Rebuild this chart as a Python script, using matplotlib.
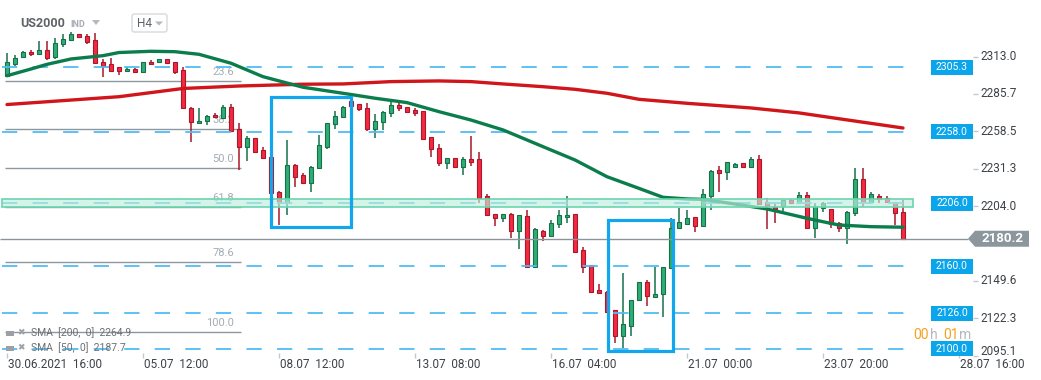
import numpy as np
import matplotlib.pyplot as plt
from matplotlib.patches import Rectangle, Polygon, FancyBboxPatch

plt.rcParams['font.family'] = ['Roboto', 'DejaVu Sans']
plt.rcParams['lines.scale_dashes'] = False

# US2000, H4 candles
opens = [2299.0, 2307.8, 2312.9, 2316.1, 2314.6, 2317.8, 2312.4, 2321.9, 2324.8, 2329.2,
         2327.7, 2325.1, 2308.8, 2307.6, 2305.2, 2302.2, 2304.1, 2301.9, 2308.8, 2308.8,
         2311.0, 2308.8, 2303.0, 2275.7, 2264.3, 2266.3, 2270.4, 2268.0, 2276.0, 2260.0,
         2247.3, 2253.4, 2244.9, 2240.0, 2214.5, 2206.5, 2234.2, 2226.4, 2220.6, 2231.6,
         2247.3, 2263.6, 2269.2, 2280.4, 2278.2, 2275.3, 2260.2, 2265.1, 2271.6, 2277.7,
         2276.0, 2274.0, 2273.3, 2254.1, 2246.1, 2235.2, 2238.8, 2232.3, 2238.1, 2238.1,
         2211.4, 2198.3, 2195.6, 2198.3, 2186.1, 2196.8, 2159.9, 2185.9, 2182.4, 2190.8,
         2195.9, 2198.3, 2172.0, 2161.1, 2142.9, 2141.6, 2128.3, 2109.6, 2116.9, 2135.6,
         2148.5, 2138.0, 2139.7, 2158.7, 2187.8, 2190.8, 2195.9, 2189.7, 2211.6, 2230.3,
         2229.1, 2232.7, 2235.2, 2232.7, 2238.3, 2206.8, 2203.6, 2204.3, 2208.5, 2206.5,
         2212.1, 2188.3, 2202.9, 2201.9, 2191.5, 2187.8, 2198.8, 2223.5, 2207.2, 2211.6,
         2209.7, 2206.8, 2199.5]
highs = [2315.4, 2314.1, 2317.0, 2317.4, 2324.3, 2324.3, 2326.3, 2329.2, 2330.7, 2329.6,
         2329.2, 2330.2, 2311.2, 2311.7, 2305.6, 2305.4, 2304.6, 2309.0, 2310.3, 2311.2,
         2311.4, 2309.0, 2305.6, 2276.0, 2275.7, 2270.2, 2271.6, 2277.7, 2278.4, 2264.8,
         2255.1, 2253.6, 2246.9, 2240.5, 2215.0, 2252.2, 2234.5, 2228.1, 2233.0, 2255.8,
         2264.5, 2273.5, 2276.9, 2282.1, 2278.6, 2278.9, 2271.1, 2273.5, 2280.8, 2278.9,
         2276.3, 2275.3, 2273.6, 2254.3, 2249.3, 2239.3, 2239.0, 2240.0, 2255.1, 2243.7,
         2212.8, 2198.5, 2198.5, 2198.8, 2197.7, 2201.2, 2187.8, 2186.3, 2193.9, 2201.2,
         2211.4, 2198.5, 2174.0, 2161.3, 2147.2, 2142.0, 2128.5, 2155.5, 2135.8, 2148.7,
         2150.2, 2159.9, 2159.6, 2195.1, 2202.4, 2201.2, 2196.1, 2216.5, 2230.0, 2233.2,
         2236.1, 2235.4, 2235.4, 2239.6, 2241.3, 2209.7, 2207.2, 2208.7, 2209.0, 2214.5,
         2214.5, 2206.0, 2206.7, 2202.1, 2192.6, 2200.7, 2231.6, 2231.6, 2214.5, 2212.8,
         2211.4, 2207.0, 2208.5]
lows = [2298.8, 2306.3, 2312.7, 2313.4, 2314.4, 2310.3, 2311.2, 2319.7, 2324.6, 2326.8,
        2322.4, 2307.9, 2298.3, 2301.9, 2299.5, 2301.7, 2301.4, 2301.7, 2307.1, 2308.6,
        2307.8, 2300.3, 2275.0, 2250.9, 2264.0, 2263.1, 2268.5, 2267.8, 2258.8, 2230.3,
        2237.1, 2243.5, 2239.1, 2213.0, 2190.2, 2197.5, 2217.7, 2220.0, 2214.5, 2231.4,
        2245.4, 2260.0, 2269.0, 2276.8, 2273.5, 2259.0, 2253.9, 2259.5, 2269.2, 2273.5,
        2272.6, 2269.9, 2252.5, 2240.0, 2233.5, 2231.0, 2232.1, 2226.7, 2233.2, 2206.0,
        2196.8, 2189.7, 2192.2, 2180.5, 2172.8, 2159.7, 2159.7, 2178.6, 2182.2, 2188.3,
        2192.0, 2170.1, 2155.5, 2140.5, 2140.7, 2126.8, 2104.5, 2100.4, 2109.6, 2135.4,
        2131.2, 2137.8, 2123.0, 2158.5, 2187.6, 2190.6, 2185.4, 2189.5, 2201.2, 2214.5,
        2223.0, 2231.8, 2232.5, 2232.5, 2205.3, 2187.1, 2191.9, 2200.4, 2206.1, 2206.3,
        2187.3, 2180.5, 2199.9, 2187.8, 2185.4, 2176.4, 2197.0, 2203.6, 2207.0, 2206.1,
        2206.1, 2190.2, 2180.2]
closes = [2308.8, 2311.7, 2316.1, 2314.6, 2317.8, 2312.1, 2322.6, 2325.8, 2329.2, 2327.2,
          2323.8, 2308.1, 2306.3, 2302.7, 2302.7, 2304.1, 2301.9, 2308.8, 2307.3, 2311.0,
          2308.1, 2301.9, 2275.3, 2265.1, 2266.0, 2269.9, 2268.7, 2276.0, 2259.0, 2247.3,
          2253.4, 2243.7, 2239.3, 2213.8, 2206.5, 2233.7, 2225.0, 2220.6, 2232.3, 2248.5,
          2264.3, 2269.9, 2276.0, 2277.0, 2274.5, 2260.2, 2266.0, 2272.4, 2277.7, 2275.3,
          2272.8, 2272.1, 2252.7, 2245.8, 2235.2, 2238.8, 2232.3, 2238.1, 2236.4, 2210.1,
          2197.5, 2195.6, 2198.3, 2186.1, 2197.5, 2159.9, 2187.3, 2182.4, 2191.5, 2197.5,
          2197.5, 2170.8, 2159.4, 2141.6, 2140.9, 2127.1, 2109.6, 2118.1, 2135.6, 2148.5,
          2138.7, 2139.7, 2159.4, 2188.3, 2192.2, 2195.1, 2189.7, 2212.8, 2229.8, 2228.4,
          2235.9, 2234.7, 2232.7, 2238.3, 2205.5, 2204.3, 2201.9, 2208.5, 2206.5, 2212.1,
          2188.3, 2204.1, 2206.5, 2190.8, 2187.8, 2199.5, 2223.5, 2207.2, 2212.6, 2209.0,
          2206.8, 2198.8, 2180.2]

# moving averages at some candle positions
sma50_idx = [0, 3, 5, 8, 12, 14, 18, 21, 24, 28, 32, 37, 42, 46, 50, 54, 58, 62, 67, 71,
             75, 79, 82, 85, 87, 91, 95, 100, 102, 104, 108, 112]
sma50_val = [2299.0, 2303.9, 2307.3, 2311.2, 2313.6, 2315.9, 2316.8, 2316.5, 2314.6, 2308.1,
             2298.3, 2290.6, 2286.2, 2282.6, 2279.4, 2272.8, 2266.7, 2259.5, 2247.3, 2237.6,
             2225.4, 2216.9, 2210.4, 2209.2, 2208.9, 2205.5, 2201.9, 2195.1, 2192.6, 2190.2,
             2189.0, 2188.6]
sma200_idx = [0, 14, 22, 29, 37, 42, 48, 54, 58, 62, 67, 71, 75, 79, 85, 93, 99, 105, 112]
sma200_val = [2278.0, 2283.7, 2289.7, 2291.5, 2292.8, 2293.0, 2294.7, 2295.2, 2294.7, 2293.0,
              2291.0, 2289.1, 2286.2, 2281.8, 2278.9, 2275.5, 2271.9, 2266.8, 2260.9]

fib_levels = [23.6, 38.2, 50.0, 61.8, 78.6, 100.0]
fib_top, fib_bottom = 2351.8, 2112.0
hlines = [2305.3, 2258.0, 2206.0, 2160.0, 2126.0, 2100.0]
zone = (2203.6, 2208.9)
last_price = 2180.2
yticks = [2313.0, 2285.7, 2258.5, 2231.3, 2204.0, 2149.6, 2122.3, 2095.1]
xtick_idx = [0, 17, 34, 51, 68, 85, 102, 119]
xtick_lab = ['30.06.2021  16:00', '05.07  12:00', '08.07  12:00', '13.07  08:00',
             '16.07  04:00', '21.07  00:00', '23.07  20:00', '28.07  16:00']
boxes = [(33, 43, 2189.0, 2283.7), (75.1, 83.3, 2098.6, 2193.9)]

W, H = 1041, 380


def ix(px):
    return (px - 7) / 8.0


def py2p(py):
    return 2313.0 - (py - 56.5) / 1.3723


PXP = 1 / 1.3723  # price units per pixel

fig = plt.figure(figsize=(W / 100, H / 100), dpi=100)
ax = fig.add_axes([0, 0, 1, 1])
ax.set_xlim(ix(0), ix(W))
ax.set_ylim(py2p(H), py2p(0))
ax.axis('off')

g_face, g_edge = '#2fae74', '#17704a'
r_face, r_edge = '#f42a3f', '#a9172b'

o = np.array(opens)
c = np.array(closes)
hi = np.array(highs)
lo = np.array(lows)
idx = np.arange(len(o))
up = c >= o
body = np.maximum(np.abs(c - o), 1.0)
bot = np.minimum(o, c)
for m, fc, ec in [(up, g_face, g_edge), (~up, r_face, r_edge)]:
    ax.vlines(idx[m], lo[m], hi[m], color=ec, lw=1.1, zorder=2)
    ax.bar(idx[m], body[m], bottom=bot[m], width=0.62, color=fc, edgecolor=ec,
           lw=0.8, zorder=3)

# fibonacci retracement
for f in fib_levels:
    p = fib_top - f / 100 * (fib_top - fib_bottom)
    ax.hlines(p, ix(5), ix(241), color='#8d979d', lw=1, zorder=1)
    ax.text(ix(234), p + 4 * PXP, f'{f:.1f}', ha='right', va='bottom',
            fontsize=8, color='#a3adb5', zorder=1)

# dashed levels
ax.hlines(hlines, ix(2), ix(917), color='#4fbdf2', lw=1.3, linestyles=[(0, (11, 11))],
          zorder=4)

# last price line
ax.hlines(last_price, ix(0), ix(968), color='#8a949a', lw=1, zorder=4)

# moving averages
ax.plot(sma200_idx, sma200_val, color='#d0161b', lw=2.4, zorder=5, solid_capstyle='round')
ax.plot(sma50_idx, sma50_val, color='#0b7d4c', lw=2.4, zorder=5, solid_capstyle='round')

# support zone
ax.add_patch(Rectangle((ix(2), zone[0]), ix(912.5) - ix(2), zone[1] - zone[0],
                       facecolor='#bfeedd', alpha=0.65, edgecolor='none', zorder=6))
ax.add_patch(Rectangle((ix(2), zone[0]), ix(912.5) - ix(2), zone[1] - zone[0],
                       facecolor='none', edgecolor='#6ad6ae', lw=1.2, zorder=6))

# highlight boxes
for x0, x1, y0, y1 in boxes:
    ax.add_patch(Rectangle((x0, y0), x1 - x0, y1 - y0, facecolor='none',
                           edgecolor='#12a6ec', lw=2.3, zorder=7))

# level tags at right
for p in hlines:
    ax.add_patch(Rectangle((ix(931), p - 7.5 * PXP), ix(973) - ix(931), 15 * PXP,
                           facecolor='#0ba5ec', edgecolor='none', zorder=8))
    ax.text((ix(931) + ix(973)) / 2, p, f'{p:.1f}', ha='center', va='center',
            fontsize=7.5, color='white', zorder=9)

# price axis (lowest label sits a bit higher, as in the screenshot)
for t in yticks:
    ax.hlines(t, ix(973), ix(978), color='#c4c8cc', lw=1)
    ty = t + 4.5 * PXP if t == yticks[-1] else t
    ax.text(ix(980), ty, f'{t:.1f}', ha='left', va='center', fontsize=8.5, color='#3d4247')

# last price tag
tag = Polygon([(ix(968), last_price), (ix(975), last_price + 8 * PXP),
               (ix(1029), last_price + 8 * PXP), (ix(1029), last_price - 8 * PXP),
               (ix(975), last_price - 8 * PXP)], closed=True, facecolor='#8c979d',
              edgecolor='none', zorder=8)
ax.add_patch(tag)
ax.text(ix(1003), last_price, f'{last_price:.1f}', ha='center', va='center',
        fontsize=9.5, color='white', fontweight='bold', zorder=9)

# time axis
for i, lab in zip(xtick_idx, xtick_lab):
    ax.vlines(i, py2p(358), py2p(353), color='#c4c8cc', lw=1)
    ax.text(i + 0.15, py2p(364.5), lab, ha='left', va='center', fontsize=8.5,
            color='#3d4247')

# countdown
cy = py2p(335)
for px, s, col in [(913, '00', '#f5a21e'), (930, 'h', '#b5b9bd'),
                   (943, '01', '#f5a21e'), (959, 'm', '#b5b9bd')]:
    ax.text(ix(px), cy, s, ha='left', va='center', fontsize=10, color=col, zorder=9)

# indicator legend
for py, s in [(333, 'SMA  [200,  0]  2264.9'), (348, 'SMA  [50,  0]  2187.7')]:
    ax.add_patch(Rectangle((ix(6), py2p(py + 3)), ix(14) - ix(6), 5 * PXP,
                           facecolor='#9aa0a6', edgecolor='none', zorder=9))
    ax.text(ix(17), py2p(py), '✖', ha='left', va='center', fontsize=6.5,
            color='#9aa0a6', zorder=9)
    ax.text(ix(31), py2p(py), s, ha='left', va='center', fontsize=7.5,
            color='#6b7075', zorder=9)

# header
ax.text(ix(20), py2p(23), 'US2000', ha='left', va='center', fontsize=9,
        fontweight='bold', color='#5f6368')
ax.text(ix(70), py2p(24), 'IND', ha='left', va='center', fontsize=6.5,
        fontweight='bold', color='#a8adb2')
ax.add_patch(Polygon([(ix(92), py2p(20)), (ix(100), py2p(20)), (ix(96), py2p(25))],
                     facecolor='#b5b9bd', edgecolor='none'))
ax.add_patch(FancyBboxPatch((ix(132), py2p(32)), ix(167) - ix(132), 18 * PXP,
                            boxstyle='round,pad=0,rounding_size=0.3',
                            facecolor='white', edgecolor='#d6d9dc', lw=1,
                            mutation_aspect=PXP * 8))
ax.text(ix(137), py2p(23.5), 'H4', ha='left', va='center', fontsize=8.5, color='#5f6368')
ax.add_patch(Polygon([(ix(155), py2p(21.5)), (ix(163), py2p(21.5)), (ix(159), py2p(25.5))],
                     facecolor='#b5b9bd', edgecolor='none'))

fig.savefig('out.png', dpi=100)
